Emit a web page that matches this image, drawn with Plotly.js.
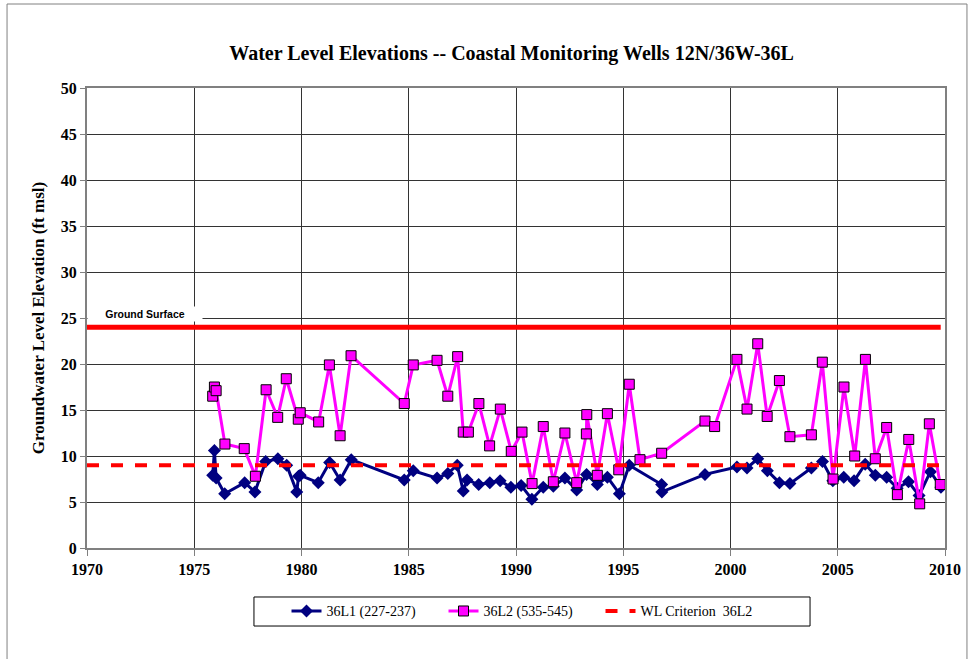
<!DOCTYPE html>
<html>
<head>
<meta charset="utf-8">
<script src="https://cdn.plot.ly/plotly-3.0.1.min.js"></script>
<style>html,body{margin:0;padding:0;background:#fff;}#chart{width:969px;height:659px;}</style>
</head>
<body>
<div id="chart"></div>
<script>
// 36L1 (227-237)
var l1Dates = [1975.86,1975.94,1976.02,1976.42,1977.35,1977.83,1978.33,1978.90,1979.31,1979.78,1979.86,1979.94,1980.78,1981.31,1981.80,1982.32,
  1984.79,1985.21,1986.32,1986.82,1987.26,1987.54,1987.72,1988.26,1988.78,1989.26,1989.76,1990.24,1990.74,1991.27,1991.74,1992.28,1992.83,
  1993.29,1993.79,1994.26,1994.82,1995.28,1996.79,1996.80,1998.81,2000.30,2000.77,2001.27,2001.72,2002.28,2002.77,2003.77,2004.29,2004.77,
  2005.28,2005.76,2006.28,2006.75,2007.28,2007.77,2008.30,2008.79,2009.32,2009.81];
var l1Values = [7.9,10.6,7.6,5.9,7.1,6.1,9.4,9.7,9.0,6.1,7.8,7.9,7.1,9.3,7.4,9.6,
  7.4,8.4,7.6,8.1,9.0,6.2,7.4,6.9,7.1,7.3,6.6,6.8,5.3,6.6,6.7,7.6,6.3,
  8.0,6.9,7.7,5.9,9.0,6.9,6.1,8.0,8.8,8.7,9.7,8.4,7.1,7.0,8.7,9.4,7.3,
  7.7,7.3,9.1,7.9,7.7,6.5,7.2,5.7,8.3,6.6];

// 36L2 (535-545)
var l2Dates = [1975.86,1975.94,1976.02,1976.43,1977.33,1977.85,1978.35,1978.89,1979.29,1979.85,1979.94,1980.80,1981.30,1981.80,1982.31,
  1984.79,1985.21,1986.32,1986.82,1987.28,1987.54,1987.78,1988.27,1988.77,1989.27,1989.78,1990.28,1990.75,1991.27,1991.74,1992.28,1992.83,
  1993.28,1993.30,1993.79,1994.26,1994.79,1995.28,1995.78,1996.79,1998.81,1999.26,2000.30,2000.77,2001.27,2001.71,2002.28,2002.77,2003.77,
  2004.28,2004.78,2005.29,2005.79,2006.29,2006.75,2007.28,2007.78,2008.31,2008.82,2009.27,2009.78];
var l2Values = [16.5,17.5,17.1,11.3,10.8,7.8,17.2,14.2,18.4,14.0,14.7,13.7,19.9,12.2,20.9,
  15.7,19.9,20.4,16.5,20.8,12.6,12.6,15.7,11.1,15.1,10.5,12.6,7.0,13.2,7.2,12.5,7.1,
  12.4,14.5,7.9,14.6,8.5,17.8,9.6,10.3,13.8,13.2,20.5,15.1,22.2,14.3,18.2,12.1,12.3,
  20.2,7.5,17.5,10.0,20.5,9.7,13.1,5.8,11.8,4.8,13.5,6.9];

// WL Criterion 36L2
var critDates = [1970, 2010];
var critValues = [9, 9];

// Ground surface
var groundDates = [1970, 2009.8];
var groundValues = [24, 24];

var xTicks = [1970,1975,1980,1985,1990,1995,2000,2005,2010];
var yTicks = [0,5,10,15,20,25,30,35,40,45,50];

var serif = 'Liberation Serif, Times New Roman, serif';

var traces = [
  {x: groundDates, y: groundValues, mode: 'lines', line: {color: '#FF0000', width: 5}, showlegend: false, hoverinfo: 'skip'},
  {x: l1Dates, y: l1Values, name: '36L1 (227-237)', mode: 'lines+markers',
   line: {color: '#000080', width: 3}, marker: {symbol: 'diamond', size: 10, color: '#000080'}},
  {x: l2Dates, y: l2Values, name: '36L2 (535-545)', mode: 'lines+markers',
   line: {color: '#FF00FF', width: 3}, marker: {symbol: 'square', size: 10, color: '#FF00FF', line: {color: '#000000', width: 1}}},
  {x: critDates, y: critValues, name: 'WL Criterion  36L2', mode: 'lines',
   line: {color: '#FF0000', width: 4, dash: 'dash'}}
];

var layout = {
  width: 969, height: 659,
  margin: {l: 87, r: 24, t: 88, b: 111},
  paper_bgcolor: '#ffffff', plot_bgcolor: '#ffffff',
  title: {text: '<b>Water Level Elevations -- Coastal Monitoring Wells 12N/36W-36L</b>',
    font: {family: serif, size: 20, color: '#000'}, x: 0.528, xanchor: 'center', y: 0.92, yanchor: 'middle'},
  xaxis: {range: [1970, 2010], tickvals: xTicks, ticktext: xTicks.map(String),
    showgrid: true, gridcolor: '#333', gridwidth: 1, zeroline: false,
    showline: true, linecolor: '#808080', linewidth: 2, mirror: true,
    ticks: 'outside', ticklen: 6, tickcolor: '#808080', tickwidth: 1,
    tickfont: {family: serif, size: 16, color: '#000', weight: 'bold'}},
  yaxis: {range: [0, 50], tickvals: yTicks, ticktext: yTicks.map(String),
    showgrid: true, gridcolor: '#333', gridwidth: 1, zeroline: false,
    showline: true, linecolor: '#808080', linewidth: 2, mirror: true,
    ticks: 'outside', ticklen: 5, tickcolor: '#808080', tickwidth: 1,
    tickfont: {family: serif, size: 16, color: '#000', weight: 'bold'},
    title: {text: '<b>Groundwater Level Elevation (ft msl)</b>', font: {family: serif, size: 17, color: '#000'}, standoff: 12}},
  legend: {orientation: 'h', x: 0.507, xanchor: 'center', y: -0.103, yanchor: 'top',
    borderwidth: 0, bgcolor: 'rgba(0,0,0,0)', entrywidth: 112, entrywidthmode: 'pixels',
    font: {family: serif, size: 14, color: '#000'}},
  annotations: [{xref: 'x', yref: 'y', x: 1970, y: 25.4, xanchor: 'left', yanchor: 'middle',
    text: '<b>Ground Surface</b>', showarrow: false, width: 112, align: 'center',
    bgcolor: '#ffffff', font: {family: 'Liberation Sans, Arial, sans-serif', size: 10.5, color: '#000'}}],
  shapes: [
    {type: 'rect', xref: 'paper', yref: 'paper', x0: -0.0932, x1: 1.0256, y0: -0.26, y1: 1.1826,
     line: {color: '#808080', width: 1}, layer: 'below'},
    {type: 'rect', xref: 'paper', yref: 'paper', x0: 0.1946, x1: 0.8427, y0: -0.1696, y1: -0.1065,
     line: {color: '#000', width: 1}, fillcolor: 'rgba(0,0,0,0)', layer: 'above'}
  ]
};

Plotly.newPlot('chart', traces, layout, {staticPlot: true, displayModeBar: false});
</script>
</body>
</html>
